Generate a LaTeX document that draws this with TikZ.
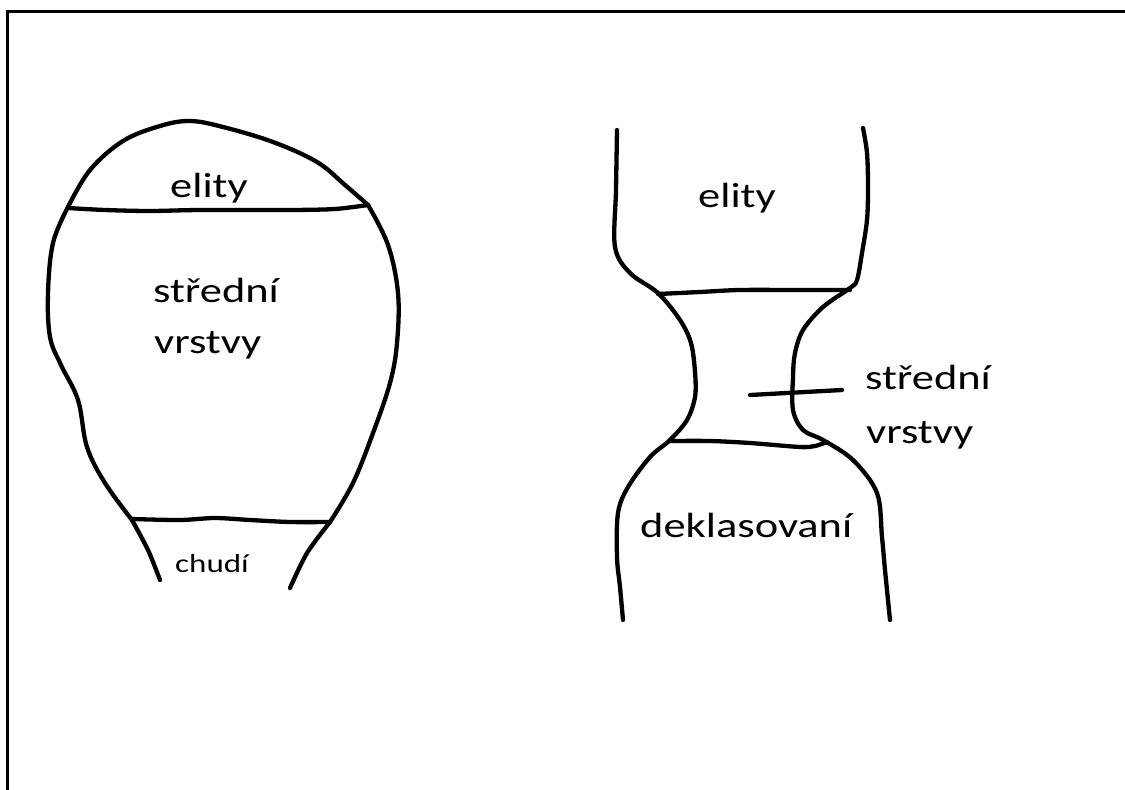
\documentclass[tikz,border=0pt]{standalone}
\usepackage{fontspec}
\setmainfont{Carlito}
\begin{document}
\begin{tikzpicture}[x=1pt,y=-1pt,
  pen/.style={line width=4.3pt,line cap=round,line join=round},
  frame/.style={line width=3pt},
  big/.style={inner sep=0pt,anchor=base west,font=\fontsize{35}{42}\selectfont},
  small/.style={inner sep=0pt,anchor=base west,font=\fontsize{26}{31}\selectfont}]
\useasboundingbox (0,0) rectangle (1125,790);
% frame (top and left only)
\draw[frame] (7,790) -- (7,11) -- (1125,11);

% ---------- left shape ----------
% top cap
\draw[pen] plot[smooth,tension=0.6] coordinates {(68,207) (90,170) (123,141) (160,126) (190,121) (223,127) (273,142) (317,162) (345,185) (368,205)};
% elity separator
\draw[pen] plot[smooth,tension=0.5] coordinates {(68,208) (105,210) (150,211) (200,210) (290,210) (335,209) (368,205)};
% left side
\draw[pen] plot[smooth,tension=0.6] coordinates {(68,207) (53,243) (48,293) (50,337) (61,365) (78,400) (87,447) (105,483) (132,520)};
% right side
\draw[pen] plot[smooth,tension=0.6] coordinates {(368,205) (388,245) (398,293) (397,343) (390,383) (373,433) (353,483) (330,522)};
% bottom separator
\draw[pen] plot[smooth,tension=0.5] coordinates {(132,519) (180,520) (215,518) (250,520) (290,522) (330,522)};
% legs
\draw[pen] plot[smooth,tension=0.5] coordinates {(132,520) (148,550) (160,580)};
\draw[pen] plot[smooth,tension=0.5] coordinates {(330,522) (307,553) (290,588)};

% ---------- right shape ----------
% left outline
\draw[pen] plot[smooth,tension=0.55] coordinates {(617,130) (616,190) (615,247) (630,273) (658,293) (680,320) (691,343) (695,372) (695,397) (687,420) (670,440) (650,457) (628,487) (618,513) (617,557) (620,587) (623,620)};
% right outline
\draw[pen] plot[smooth,tension=0.55] coordinates {(863,128) (867,153) (868,187) (867,220) (862,253) (857,280) (850,288) (823,307) (803,330) (795,353) (793,377) (793,410) (803,430) (823,440) (853,460) (877,493) (882,537) (885,570) (890,620)};
% top separator
\draw[pen] plot[smooth,tension=0.5] coordinates {(658,294) (700,292) (740,290) (800,290) (850,290)};
% bottom separator
\draw[pen] plot[smooth,tension=0.5] coordinates {(670,441) (710,441) (750,443) (800,447) (815,446) (827,442)};
% pointer
\coordinate (pa) at (750,395);
\coordinate (pb) at (842,390);
\draw[pen] (pa) -- (pb);

% ---------- labels ----------
\node[big] (le) at (170,197) {\scalebox{1.27}[1]{elity}};
\node[big] (ls1) at (153,302) {\scalebox{1.27}[1]{střední}};
\node[big] (ls2) at (154,353) {\scalebox{1.27}[1]{vrstvy}};
\node[small] (lc) at (175,572) {\scalebox{1.27}[1]{chudí}};
\node[big] (re) at (698,207) {\scalebox{1.27}[1]{elity}};
\node[big] (rs1) at (865,389) {\scalebox{1.27}[1]{střední}};
\node[big] (rs2) at (866,443) {\scalebox{1.27}[1]{vrstvy}};
\node[big] (rd) at (640,537) {\scalebox{1.27}[1]{deklasovaní}};
\end{tikzpicture}
\end{document}
